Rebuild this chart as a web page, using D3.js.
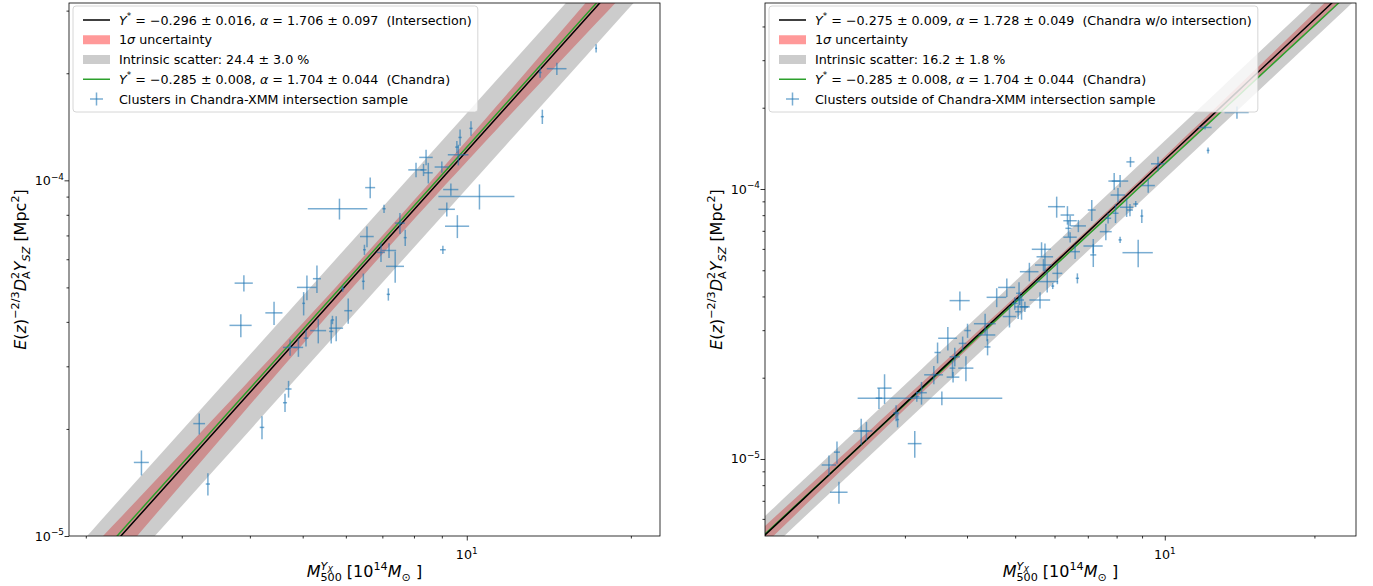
<!DOCTYPE html>
<html>
<head>
<meta charset="utf-8">
<script src="https://cdn.jsdelivr.net/npm/d3@7"></script>
<style>
  body { margin: 0; background: #fff; }
  svg text { font-family: "DejaVu Sans", sans-serif; white-space: pre; }
</style>
</head>
<body>
<svg id="chart" width="1373" height="586"></svg>
<script>
// ---------------- data ----------------
// left panel: clusters in the Chandra-XMM intersection sample
var leftMass = [17.27, 14.63, 13.63, 13.76, 10.18, 9.72, 9.59, 9.65, 8.42, 8.07, 8.33, 8.50, 9.00, 9.35, 10.55,
  9.19, 9.61, 9.04, 7.05, 7.54, 7.71, 7.20, 6.96, 6.65, 5.84, 6.56, 6.49, 6.46, 7.39, 7.18, 6.06, 5.92, 5.76,
  5.64, 5.67, 5.34, 5.07, 5.02, 5.31, 5.09, 4.91, 4.74, 4.43, 3.90, 3.85, 4.71, 4.64, 4.21, 3.23, 3.35, 2.53];
var leftMassErr = [0.07, 0.61, 0.09, 0.09, 0.07, 0.07, 0.07, 0.42, 0.24, 0.26, 0.11, 0.16, 0.27, 0.30, 1.68,
  0.32, 0.49, 0.11, 0.05, 0.16, 0.05, 0.22, 0.12, 0.14, 0.73, 0.19, 0.04, 0.04, 0.28, 0.05, 0.10, 0.04, 0.17,
  0.05, 0.04, 0.18, 0.05, 0.03, 0.09, 0.21, 0.10, 0.14, 0.16, 0.15, 0.18, 0.06, 0.04, 0.04, 0.08, 0.03, 0.08];
var leftYsz = [2.35e-4, 2.06e-4, 2.01e-4, 1.51e-4, 1.40e-4, 1.32e-4, 1.24e-4, 1.18e-4, 1.16e-4, 1.07e-4, 1.07e-4,
  1.05e-4, 1.09e-4, 9.42e-5, 9.01e-5, 8.29e-5, 7.43e-5, 6.38e-5, 8.32e-5, 7.58e-5, 6.90e-5, 6.35e-5, 6.27e-5,
  9.54e-5, 8.32e-5, 6.95e-5, 6.38e-5, 5.20e-5, 5.73e-5, 4.78e-5, 4.30e-5, 4.96e-5, 3.84e-5, 3.76e-5, 4.05e-5,
  3.78e-5, 3.60e-5, 4.51e-5, 5.29e-5, 5.00e-5, 3.39e-5, 3.39e-5, 4.24e-5, 5.14e-5, 3.91e-5, 2.59e-5, 2.37e-5,
  2.02e-5, 2.07e-5, 1.40e-5, 1.61e-5];
var leftYszErr = [6.2e-6, 8.2e-6, 6.6e-6, 7.0e-6, 6.5e-6, 7.0e-6, 4.9e-6, 7.9e-6, 5.8e-6, 5.0e-6, 4.2e-6,
  7.0e-6, 3.9e-6, 3.7e-6, 7.3e-6, 3.8e-6, 5.5e-6, 1.7e-6, 2.2e-6, 5.1e-6, 3.6e-6, 3.0e-6, 3.8e-6,
  6.4e-6, 5.6e-6, 4.7e-6, 2.1e-6, 2.7e-6, 5.8e-6, 1.9e-6, 3.5e-6, 1.0e-6, 3.1e-6, 2.8e-6, 1.1e-6,
  3.0e-6, 1.9e-6, 3.4e-6, 4.7e-6, 4.0e-6, 2.0e-6, 1.8e-6, 3.2e-6, 2.7e-6, 2.9e-6, 1.4e-6, 1.4e-6,
  1.5e-6, 1.4e-6, 1.0e-6, 1.3e-6];

// right panel: clusters outside the intersection sample
var rightMass = [13.97, 12.05, 12.22, 8.53, 9.69, 7.91, 8.13, 9.26, 8.05, 8.74, 8.38, 8.51, 8.99, 7.96, 7.69,
  7.61, 8.13, 7.18, 7.18, 8.84, 7.13, 6.67, 6.60, 6.06, 6.37, 6.45, 6.70, 6.40, 6.45, 5.65, 5.74, 5.70, 5.34,
  6.08, 5.80, 5.95, 4.81, 4.59, 5.09, 5.11, 5.61, 4.99, 5.15, 5.07, 4.87, 5.23, 3.87, 4.35, 4.39, 4.40, 4.01,
  3.66, 3.92, 3.49, 3.78, 3.74, 3.75, 3.98, 3.43, 3.24, 3.17, 3.56, 2.73, 2.66, 2.88, 2.90, 3.14, 2.51, 2.45,
  2.19, 2.11, 2.21];
var rightMassErr = [0.78, 0.37, 0.08, 0.16, 0.31, 0.21, 0.31, 0.29, 0.27, 0.10, 0.26, 0.12, 0.06, 0.11, 0.11,
  0.21, 0.06, 0.32, 0.10, 0.62, 0.13, 0.05, 0.15, 0.24, 0.20, 0.20, 0.24, 0.09, 0.20, 0.25, 0.22, 0.22, 0.23,
  0.14, 0.30, 0.04, 0.19, 0.21, 0.07, 0.10, 0.27, 0.07, 0.16, 0.07, 0.15, 0.12, 0.18, 0.22, 0.17, 0.06, 0.06,
  0.16, 0.07, 0.05, 0.09, 0.05, 0.11, 0.14, 0.15, 0.08, 0.04, 1.15, 0.09, 0.04, 0.04, 0.02, 0.10, 0.07, 0.09,
  0.03, 0.07, 0.09];
var rightYsz = [1.92e-4, 1.69e-4, 1.39e-4, 1.26e-4, 1.24e-4, 1.07e-4, 1.07e-4, 1.03e-4, 9.50e-5, 8.80e-5,
  8.56e-5, 8.36e-5, 7.94e-5, 8.13e-5, 7.79e-5, 6.95e-5, 6.48e-5, 6.15e-5, 5.70e-5, 5.81e-5, 8.36e-5, 4.67e-5,
  5.86e-5, 8.60e-5, 8.01e-5, 7.63e-5, 7.30e-5, 7.15e-5, 6.63e-5, 5.98e-5, 5.61e-5, 5.23e-5, 4.94e-5, 4.87e-5,
  4.54e-5, 4.37e-5, 4.32e-5, 3.97e-5, 4.11e-5, 3.88e-5, 3.88e-5, 3.77e-5, 3.66e-5, 3.51e-5, 3.37e-5, 3.66e-5,
  3.86e-5, 3.17e-5, 2.88e-5, 2.60e-5, 2.99e-5, 2.80e-5, 2.68e-5, 2.48e-5, 2.39e-5, 2.17e-5, 2.01e-5, 2.17e-5,
  2.05e-5, 1.76e-5, 1.70e-5, 1.68e-5, 1.83e-5, 1.68e-5, 1.48e-5, 1.40e-5, 1.14e-5, 1.27e-5, 1.27e-5, 1.06e-5,
  9.50e-6, 7.53e-6];
var rightYszErr = [1.0e-5, 2.9e-6, 3.6e-6, 5.5e-6, 7.6e-6, 7.6e-6, 5.6e-6, 6.1e-6, 5.8e-6, 2.3e-6,
  6.8e-6, 4.4e-6, 4.5e-6, 6.5e-6, 3.4e-6, 4.9e-6, 1.7e-6, 3.8e-6, 5.6e-6, 6.8e-6, 7.4e-6, 2.0e-6,
  3.5e-6, 7.7e-6, 6.3e-6, 3.3e-6, 3.8e-6, 5.0e-6, 2.9e-6, 3.7e-6, 6.7e-6, 2.7e-6, 3.9e-6, 4.3e-6,
  4.0e-6, 1.1e-6, 3.4e-6, 3.2e-6, 4.0e-6, 1.7e-6, 2.7e-6, 2.0e-6, 3.8e-6, 2.1e-6, 3.0e-6, 1.6e-6,
  3.1e-6, 2.8e-6, 1.5e-6, 1.8e-6, 1.8e-6, 2.8e-6, 1.6e-6, 2.2e-6, 1.9e-6, 1.5e-6, 0.9e-6, 2.3e-6,
  1.6e-6, 1.7e-6, 0.7e-6, 1.0e-6, 2.3e-6, 1.5e-6, 1.0e-6, 0.9e-6, 1.3e-6, 1.0e-6, 1.4e-6, 1.0e-6,
  0.8e-6, 0.7e-6];

// fits quoted in the legends: Y = 1e-4 * 10^Y* * (M / 6)^alpha
var massPivot = 6, yNorm = 1e-4;
var fitIntersection = { ystar: -0.296, ystarErr: 0.016, alpha: 1.706, alphaErr: 0.097 };
var fitOutside      = { ystar: -0.275, ystarErr: 0.009, alpha: 1.728, alphaErr: 0.049 };
var fitChandra      = { ystar: -0.285, ystarErr: 0.008, alpha: 1.704, alphaErr: 0.044 };
var scatterLeft = 0.244, scatterRight = 0.162;     // intrinsic scatter (ln)
var bandLeft = { pivot: 7, floor: 0.026 }, bandRight = { pivot: 7, floor: 0.010 };   // 1 sigma band shape

// axes limits and ticks
var leftXLim = [1.863, 22.62], leftYLim = [1.0e-5, 3.152e-4];
var rightXLim = [1.569, 24.25], rightYLim = [5.185e-6, 4.886e-4];
var xMajor = [10], xMinor = [2, 3, 4, 5, 6, 7, 8, 9, 20];
var yMajor = [1e-5, 1e-4];
var leftYMinor = [2e-5, 3e-5, 4e-5, 5e-5, 6e-5, 7e-5, 8e-5, 9e-5, 2e-4, 3e-4];
var rightYMinor = [6e-6, 7e-6, 8e-6, 9e-6, 2e-5, 3e-5, 4e-5, 5e-5, 6e-5, 7e-5, 8e-5, 9e-5, 2e-4, 3e-4, 4e-4];

var BLUE = "#1f77b4", GREEN = "#2ca02c";
var FS = 12.7;        // legend / tick font
var LFS = 16;         // axis label font

var svg = d3.select("#chart");

// levels for the little mathtext emulation
var LEVELS = {
  base:   { shift: 0,     scale: 1 },
  sup:    { shift: -0.42, scale: 0.7 },
  sub:    { shift: 0.28,  scale: 0.7 },
  supsub: { shift: -0.24, scale: 0.5 }
};

function richText(sel, parts, size) {
  var cur = 0;
  parts.forEach(function (p) {
    var o = p[1] || {};
    var lv = LEVELS[o.lv || "base"];
    var ts = sel.append("tspan").text(p[0])
      .attr("dy", ((lv.shift - cur) * size).toFixed(2))
      .style("font-size", (lv.scale * size) + "px");
    if (o.dx) ts.attr("dx", o.dx);
    if (o.it) ts.style("font-style", "italic");
    cur = lv.shift;
  });
  return sel;
}

function fitY(fit, m) {
  return yNorm * Math.pow(10, fit.ystar) * Math.pow(m / massPivot, fit.alpha);
}

function drawPanel(p) {
  var x = d3.scaleLog().domain(p.xLim).range([p.x0, p.x1]);
  var y = d3.scaleLog().domain(p.yLim).range([p.y1, p.y0]);
  var g = svg.append("g");

  g.append("clipPath").attr("id", p.id + "clip")
    .append("rect").attr("x", p.x0).attr("y", p.y0)
    .attr("width", p.x1 - p.x0).attr("height", p.y1 - p.y0);
  var plot = g.append("g").attr("clip-path", "url(#" + p.id + "clip)");

  // mass grid for drawing the model curves
  var lo = Math.log10(p.xLim[0]) - 0.2, hi = Math.log10(p.xLim[1]) + 0.2;
  var grid = d3.range(0, 81).map(function (i) { return Math.pow(10, lo + (hi - lo) * i / 80); });

  function sig(m) {
    var d = p.fit.alphaErr * Math.log10(m / p.band.pivot);
    return Math.sqrt(p.band.floor * p.band.floor + d * d);
  }
  var sigmaArea = d3.area()
    .x(function (m) { return x(m); })
    .y0(function (m) { return y(fitY(p.fit, m) * Math.pow(10, -sig(m))); })
    .y1(function (m) { return y(fitY(p.fit, m) * Math.pow(10, sig(m))); });
  plot.append("path").attr("d", sigmaArea(grid))
    .attr("fill", "red").attr("fill-opacity", 0.4);

  var scatterArea = d3.area()
    .x(function (m) { return x(m); })
    .y0(function (m) { return y(fitY(p.fit, m) * Math.exp(-p.scatter)); })
    .y1(function (m) { return y(fitY(p.fit, m) * Math.exp(p.scatter)); });
  plot.append("path").attr("d", scatterArea(grid))
    .attr("fill", "gray").attr("fill-opacity", 0.4);

  var line = function (fit) {
    return d3.line().x(function (m) { return x(m); }).y(function (m) { return y(fitY(fit, m)); })(grid);
  };
  plot.append("path").attr("d", line(fitChandra))
    .attr("fill", "none").attr("stroke", GREEN).attr("stroke-width", 1.5);
  plot.append("path").attr("d", line(p.fit))
    .attr("fill", "none").attr("stroke", "black").attr("stroke-width", 1.5);

  // error bars
  var idx = d3.range(p.mass.length);
  plot.selectAll(".xe").data(idx).join("line")
    .attr("x1", function (i) { return x(p.mass[i] - p.massErr[i]); })
    .attr("x2", function (i) { return x(p.mass[i] + p.massErr[i]); })
    .attr("y1", function (i) { return y(p.ysz[i]); })
    .attr("y2", function (i) { return y(p.ysz[i]); })
    .attr("stroke", BLUE).attr("stroke-width", 1.5).attr("stroke-opacity", 0.6);
  plot.selectAll(".ye").data(idx).join("line")
    .attr("x1", function (i) { return x(p.mass[i]); })
    .attr("x2", function (i) { return x(p.mass[i]); })
    .attr("y1", function (i) { return y(p.ysz[i] - p.yszErr[i]); })
    .attr("y2", function (i) { return y(p.ysz[i] + p.yszErr[i]); })
    .attr("stroke", BLUE).attr("stroke-width", 1.5).attr("stroke-opacity", 0.6);

  // ticks
  var xAx = g.append("g").attr("transform", "translate(0," + p.y1 + ")");
  xAx.call(d3.axisBottom(x).tickValues(xMajor).tickSize(4.5).tickFormat(""));
  var xAxm = g.append("g").attr("transform", "translate(0," + p.y1 + ")");
  xAxm.call(d3.axisBottom(x).tickValues(xMinor).tickSize(2.5).tickFormat(""));
  var yAx = g.append("g").attr("transform", "translate(" + p.x0 + ",0)");
  yAx.call(d3.axisLeft(y).tickValues(yMajor).tickSize(4.5).tickFormat(""));
  var yAxm = g.append("g").attr("transform", "translate(" + p.x0 + ",0)");
  yAxm.call(d3.axisLeft(y).tickValues(p.yMinor).tickSize(2.5).tickFormat(""));
  g.selectAll(".domain").remove();
  g.selectAll(".tick line").attr("stroke", "black").attr("stroke-width", 0.8);

  // tick labels
  xMajor.forEach(function (v) {
    richText(g.append("text").attr("x", x(v)).attr("y", p.y1 + 23).attr("text-anchor", "middle"),
      [["10"], [String(Math.round(Math.log10(v))), { lv: "sup" }]], FS);
  });
  yMajor.forEach(function (v) {
    var yy = y(v);
    if (yy < p.y0 - 1 || yy > p.y1 + 1) return;
    richText(g.append("text").attr("x", p.x0 - 5).attr("y", yy + 4.5).attr("text-anchor", "end"),
      [["10"], ["\u2212" + String(-Math.round(Math.log10(v))), { lv: "sup" }]], FS);
  });

  // axis labels
  richText(g.append("text").attr("text-anchor", "middle")
    .attr("transform", "translate(" + ((p.x0 + p.x1) / 2) + ",577)"),
    [["M", { it: 1 }], ["Y", { lv: "sup", it: 1 }], ["X", { lv: "supsub", it: 1 }],
     ["500", { lv: "sub", dx: -12.5 }], [" [10"], ["14", { lv: "sup" }], ["M", { it: 1 }],
     ["\u2299", { lv: "sub" }], [" ]"]], LFS);
  richText(g.append("text").attr("text-anchor", "middle")
    .attr("transform", "translate(" + (p.x0 - 43) + "," + ((p.y0 + p.y1) / 2) + ") rotate(-90)"),
    [["E", { it: 1 }], ["("], ["z", { it: 1 }], [")"], ["\u22122/3", { lv: "sup" }], ["D", { it: 1 }],
     ["2", { lv: "sup" }], ["A", { lv: "sub", dx: -7 }], ["Y", { it: 1 }], ["SZ", { lv: "sub", it: 1 }],
     [" [Mpc"], ["2", { lv: "sup" }], ["]"]], LFS);

  // frame
  g.append("rect").attr("x", p.x0).attr("y", p.y0)
    .attr("width", p.x1 - p.x0).attr("height", p.y1 - p.y0)
    .attr("fill", "none").attr("stroke", "black").attr("stroke-width", 0.8);

  // legend
  var lg = g.append("g");
  var frame = lg.append("rect").attr("x", p.x0 + 4).attr("y", 6).attr("rx", 3)
    .attr("fill", "white").attr("fill-opacity", 0.8).attr("stroke", "#cccccc").attr("stroke-width", 0.8);
  var hx = p.x0 + 14, hw = 27, tx = p.x0 + 50, maxW = 0;
  p.legend.forEach(function (e, i) {
    var cy = 20 + i * 19.75;
    if (e.kind === "line") {
      lg.append("line").attr("x1", hx).attr("x2", hx + hw).attr("y1", cy).attr("y2", cy)
        .attr("stroke", e.color).attr("stroke-width", 1.5);
    } else if (e.kind === "patch") {
      lg.append("rect").attr("x", hx).attr("y", cy - 4.5).attr("width", hw).attr("height", 9)
        .attr("fill", e.color).attr("fill-opacity", 0.4);
    } else {
      var cx = hx + hw / 2;
      lg.append("line").attr("x1", cx - 6.5).attr("x2", cx + 6.5).attr("y1", cy).attr("y2", cy)
        .attr("stroke", BLUE).attr("stroke-width", 1.5).attr("stroke-opacity", 0.6);
      lg.append("line").attr("x1", cx).attr("x2", cx).attr("y1", cy - 6.5).attr("y2", cy + 6.5)
        .attr("stroke", BLUE).attr("stroke-width", 1.5).attr("stroke-opacity", 0.6);
    }
    var t = richText(lg.append("text").attr("x", tx).attr("y", cy + 4.5).style("font-size", FS + "px"), e.parts, FS);
    maxW = Math.max(maxW, t.node().getBBox().width);
  });
  frame.attr("width", tx - (p.x0 + 4) + maxW + 6).attr("height", 106);
}

var legendLeft = [
  { kind: "line", color: "black", parts: [["Y", { it: 1 }], ["*", { lv: "sup" }],
    [" = \u22120.296 \u00b1 0.016, "], ["\u03b1", { it: 1 }], [" = 1.706 \u00b1 0.097  (Intersection)"]] },
  { kind: "patch", color: "red", parts: [["1"], ["\u03c3", { it: 1 }], [" uncertainty"]] },
  { kind: "patch", color: "gray", parts: [["Intrinsic scatter: 24.4 \u00b1 3.0 %"]] },
  { kind: "line", color: GREEN, parts: [["Y", { it: 1 }], ["*", { lv: "sup" }],
    [" = \u22120.285 \u00b1 0.008, "], ["\u03b1", { it: 1 }], [" = 1.704 \u00b1 0.044  (Chandra)"]] },
  { kind: "err", parts: [["Clusters in Chandra-XMM intersection sample"]] }
];
var legendRight = [
  { kind: "line", color: "black", parts: [["Y", { it: 1 }], ["*", { lv: "sup" }],
    [" = \u22120.275 \u00b1 0.009, "], ["\u03b1", { it: 1 }], [" = 1.728 \u00b1 0.049  (Chandra w/o intersection)"]] },
  { kind: "patch", color: "red", parts: [["1"], ["\u03c3", { it: 1 }], [" uncertainty"]] },
  { kind: "patch", color: "gray", parts: [["Intrinsic scatter: 16.2 \u00b1 1.8 %"]] },
  { kind: "line", color: GREEN, parts: [["Y", { it: 1 }], ["*", { lv: "sup" }],
    [" = \u22120.285 \u00b1 0.008, "], ["\u03b1", { it: 1 }], [" = 1.704 \u00b1 0.044  (Chandra)"]] },
  { kind: "err", parts: [["Clusters outside of Chandra-XMM intersection sample"]] }
];

drawPanel({ id: "L", x0: 69, x1: 660, y0: 3, y1: 536, xLim: leftXLim, yLim: leftYLim, yMinor: leftYMinor,
  mass: leftMass, massErr: leftMassErr, ysz: leftYsz, yszErr: leftYszErr,
  fit: fitIntersection, scatter: scatterLeft, band: bandLeft, legend: legendLeft });
drawPanel({ id: "R", x0: 765, x1: 1356, y0: 3, y1: 536, xLim: rightXLim, yLim: rightYLim, yMinor: rightYMinor,
  mass: rightMass, massErr: rightMassErr, ysz: rightYsz, yszErr: rightYszErr,
  fit: fitOutside, scatter: scatterRight, band: bandRight, legend: legendRight });
</script>
</body>
</html>
